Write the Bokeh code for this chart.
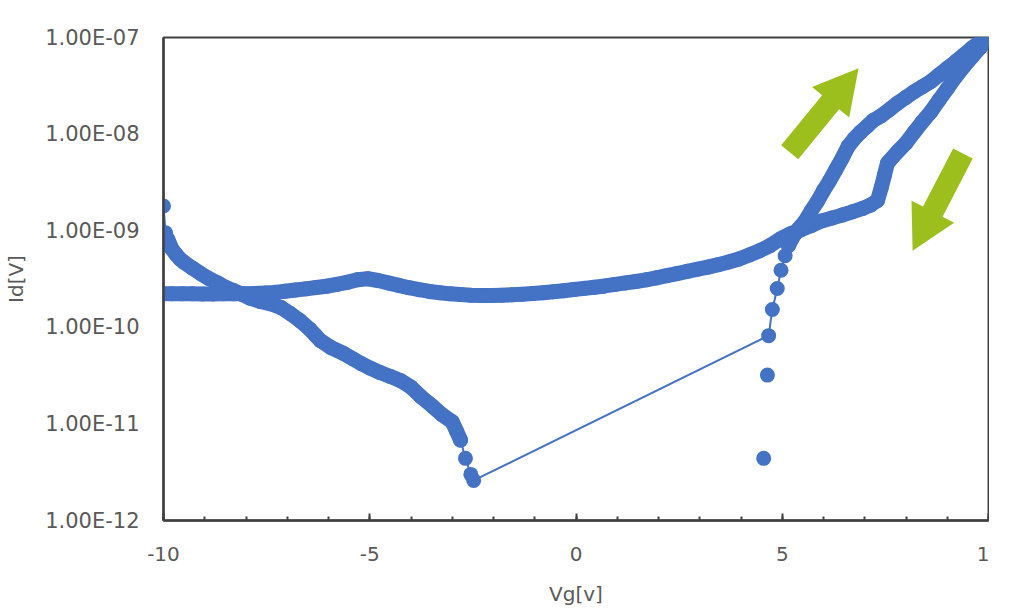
import math
from bokeh.plotting import figure
from bokeh.models import FixedTicker, CustomJSTickFormatter
from bokeh.embed import file_html
from bokeh.resources import INLINE

# ---------------- data ----------------
# forward sweep Vg: -10 -> 10 (values between -2.48 V and 4.67 V not plottable on log axis)
fwd_vg = [-10.0, -9.95, -9.9, -9.8, -9.7, -9.6, -9.5, -9.3, -9.1, -8.9, -8.7, -8.5, -8.3, -8.1,
          -7.9, -7.65, -7.4, -7.15, -6.92, -6.7, -6.45, -6.32, -6.2, -5.95, -5.65, -5.4, -5.2,
          -5.0, -4.75, -4.5, -4.25, -4.0, -3.75, -3.5, -3.25, -3.0, -2.9, -2.8, -2.68, -2.55,
          -2.48, 4.67, 4.76, 4.88, 4.97, 5.07, 5.15, 5.25, 5.4, 5.55, 5.7, 5.85, 6.0, 6.15, 6.3,
          6.45, 6.6, 6.75, 6.9, 7.05, 7.2, 7.4, 7.6, 7.8, 8.0, 8.2, 8.4, 8.6, 8.8, 9.0, 9.2,
          9.4, 9.6, 9.8, 10.0]
fwd_id = [1.8e-9, 9.5e-10, 8.2e-10, 6.5e-10, 5.7e-10, 5.1e-10, 4.7e-10, 4.1e-10, 3.6e-10,
          3.2e-10, 2.9e-10, 2.6e-10, 2.4e-10, 2.2e-10, 2.0e-10, 1.85e-10, 1.75e-10, 1.6e-10,
          1.38e-10, 1.18e-10, 9.5e-11, 8.3e-11, 7.3e-11, 6.2e-11, 5.4e-11, 4.7e-11, 4.2e-11,
          3.8e-11, 3.4e-11, 3.1e-11, 2.8e-11, 2.4e-11, 1.9e-11, 1.55e-11, 1.25e-11, 1.05e-11,
          8.5e-12, 6.8e-12, 4.4e-12, 3.0e-12, 2.6e-12, 8.2e-11, 1.53e-10, 2.52e-10, 3.9e-10,
          5.5e-10, 7.0e-10, 8.5e-10, 1.05e-9, 1.25e-9, 1.6e-9, 2.0e-9, 2.6e-9, 3.3e-9, 4.3e-9,
          5.6e-9, 7.5e-9, 9.0e-9, 1.05e-8, 1.2e-8, 1.38e-8, 1.55e-8, 1.8e-8, 2.1e-8, 2.4e-8,
          2.75e-8, 3.1e-8, 3.5e-8, 4.1e-8, 4.8e-8, 5.6e-8, 6.6e-8, 7.8e-8, 9.0e-8, 1.0e-7]

# reverse sweep Vg: 10 -> -10
rev_vg = [10.0, 9.8, 9.6, 9.4, 9.2, 9.0, 8.8, 8.6, 8.4, 8.2, 8.0, 7.8, 7.6, 7.55, 7.48, 7.4,
          7.31, 7.15, 6.95, 6.7, 6.45, 6.2, 5.95, 5.7, 5.45, 5.2, 4.95, 4.7, 4.45, 4.2, 3.95,
          3.7, 3.45, 3.2, 2.95, 2.7, 2.45, 2.2, 1.95, 1.7, 1.45, 1.2, 0.95, 0.7, 0.45, 0.2,
          -0.05, -0.3, -0.55, -0.8, -1.05, -1.3, -1.55, -1.8, -2.05, -2.3, -2.55, -2.8, -3.05,
          -3.3, -3.55, -3.8, -4.05, -4.3, -4.55, -4.8, -5.05, -5.3, -5.55, -5.8, -6.05, -6.3,
          -6.55, -6.8, -7.05, -7.3, -7.55, -7.8, -8.05, -8.3, -8.55, -8.8, -9.05, -9.3, -9.55,
          -9.8, -10.0]
rev_id = [1.0e-7, 7.9e-8, 6.3e-8, 5.0e-8, 3.9e-8, 2.95e-8, 2.25e-8, 1.7e-8, 1.35e-8, 1.05e-8,
          8.1e-9, 6.6e-9, 5.3e-9, 5.0e-9, 3.8e-9, 2.8e-9, 2.06e-9, 1.85e-9, 1.7e-9, 1.57e-9,
          1.45e-9, 1.35e-9, 1.26e-9, 1.13e-9, 1.02e-9, 9.3e-10, 8.2e-10, 7.0e-10, 6.2e-10,
          5.6e-10, 5.1e-10, 4.75e-10, 4.45e-10, 4.2e-10, 4.0e-10, 3.8e-10, 3.6e-10, 3.42e-10,
          3.25e-10, 3.1e-10, 2.98e-10, 2.88e-10, 2.78e-10, 2.68e-10, 2.6e-10, 2.53e-10,
          2.46e-10, 2.39e-10, 2.33e-10, 2.28e-10, 2.24e-10, 2.2e-10, 2.17e-10, 2.15e-10,
          2.14e-10, 2.14e-10, 2.15e-10, 2.18e-10, 2.22e-10, 2.28e-10, 2.35e-10, 2.45e-10,
          2.57e-10, 2.72e-10, 2.88e-10, 3.05e-10, 3.18e-10, 3.1e-10, 2.92e-10, 2.78e-10,
          2.66e-10, 2.58e-10, 2.5e-10, 2.43e-10, 2.36e-10, 2.3e-10, 2.26e-10, 2.24e-10,
          2.23e-10, 2.22e-10, 2.22e-10, 2.21e-10, 2.21e-10, 2.22e-10, 2.22e-10, 2.23e-10,
          2.23e-10]

# isolated points near the turn-on
iso_vg = [4.55, 4.64]
iso_id = [4.4e-12, 3.2e-11]

x_ticks = [-10, -5, 0, 5, 10]
x_tick_labels = ["-10", "-5", "0", "5", "1"]   # last label is cut to "1" in the original
x_minor_ticks = list(range(-10, 11))
y_ticks = [1e-12, 1e-11, 1e-10, 1e-9, 1e-8, 1e-7]
y_tick_labels = ["1.00E-12", "1.00E-11", "1.00E-10", "1.00E-09", "1.00E-08", "1.00E-07"]
x_label = "Vg[v]"
y_label = "Id[V]"

# sweep-direction arrows: (tail Vg, tail Id, tip Vg, tip Id)
arrow_up = (5.18, 6.5e-9, 6.85, 4.8e-8)
arrow_down = (9.38, 6.3e-9, 8.16, 6.2e-10)

# ---------------- styling ----------------
BLUE = "#4472C4"
GREEN = "#9CBF1E"
AXIS = "#404040"
TEXT = "#595959"
FONT = "DejaVu Sans"
MS = 15  # marker diameter (px)

W, H = 989, 611
BL, BR, BT, BB = 163, 1, 37, 91
FW, FH = W - BL - BR, H - BT - BB
XR = (-10, 10)
YR = (1e-12, 1e-7)

p = figure(width=W, height=H, x_range=XR, y_range=YR, y_axis_type="log",
           output_backend="svg", toolbar_location=None,
           min_border_left=BL, min_border_right=BR, min_border_top=BT, min_border_bottom=BB)
p.background_fill_color = "white"
p.border_fill_color = "white"
p.outline_line_color = AXIS
p.outline_line_width = 2
p.xgrid.visible = False
p.ygrid.visible = False

# x axis
p.xaxis.ticker = FixedTicker(ticks=x_ticks, minor_ticks=x_minor_ticks)
p.xaxis.formatter = CustomJSTickFormatter(
    args=dict(xt=x_ticks, xl=x_tick_labels),
    code="const i = xt.indexOf(tick); return i >= 0 ? xl[i] : tick.toString();")
p.xaxis.axis_line_color = AXIS
p.xaxis.axis_line_width = 2.5
p.xaxis.major_tick_in = 7
p.xaxis.major_tick_out = 0
p.xaxis.minor_tick_in = 4
p.xaxis.minor_tick_out = 0
p.xaxis.major_tick_line_color = AXIS
p.xaxis.minor_tick_line_color = AXIS
p.xaxis.major_tick_line_width = 2
p.xaxis.minor_tick_line_width = 2
p.xaxis.major_label_text_font = FONT
p.xaxis.major_label_text_font_size = "20px"
p.xaxis.major_label_text_color = TEXT
p.xaxis.major_label_standoff = 26
p.xaxis.axis_label = x_label
p.xaxis.axis_label_text_font = FONT
p.xaxis.axis_label_text_font_size = "20px"
p.xaxis.axis_label_text_font_style = "normal"
p.xaxis.axis_label_text_color = TEXT
p.xaxis.axis_label_standoff = 18

# y axis
p.yaxis.ticker = FixedTicker(ticks=y_ticks, minor_ticks=[])
p.yaxis.formatter = CustomJSTickFormatter(
    args=dict(yl=y_tick_labels),
    code="const i = Math.round(Math.log10(tick)) + 12; return yl[i];")
p.yaxis.axis_line_color = AXIS
p.yaxis.axis_line_width = 2.5
p.yaxis.major_tick_in = 0
p.yaxis.major_tick_out = 0
p.yaxis.minor_tick_in = 0
p.yaxis.minor_tick_out = 0
p.yaxis.major_label_text_font = FONT
p.yaxis.major_label_text_font_size = "21px"
p.yaxis.major_label_text_color = TEXT
p.yaxis.major_label_standoff = 24
p.yaxis.axis_label = y_label
p.yaxis.axis_label_text_font = FONT
p.yaxis.axis_label_text_font_size = "20px"
p.yaxis.axis_label_text_font_style = "normal"
p.yaxis.axis_label_text_color = TEXT
p.yaxis.axis_label_standoff = 14

# ---------------- arrows (shape built in screen space, anchored in data) ----------------
SX = FW / (XR[1] - XR[0])
SY = FH / (math.log10(YR[1]) - math.log10(YR[0]))


def to_px(v, i):
    return ((v - XR[0]) * SX, (math.log10(i) - math.log10(YR[0])) * SY)


def from_px(X, Y):
    return (X / SX + XR[0], 10 ** (Y / SY + math.log10(YR[0])))


def arrow_shape(spec, shaft_hw=11, head_hw=24, head_len=44):
    tx, ty = to_px(spec[0], spec[1])
    hx, hy = to_px(spec[2], spec[3])
    dx, dy = hx - tx, hy - ty
    L = math.hypot(dx, dy)
    ux, uy = dx / L, dy / L
    nx, ny = -uy, ux
    bx, by = hx - ux * head_len, hy - uy * head_len
    pts = [(tx + nx * shaft_hw, ty + ny * shaft_hw),
           (bx + nx * shaft_hw, by + ny * shaft_hw),
           (bx + nx * head_hw, by + ny * head_hw),
           (hx, hy),
           (bx - nx * head_hw, by - ny * head_hw),
           (bx - nx * shaft_hw, by - ny * shaft_hw),
           (tx - nx * shaft_hw, ty - ny * shaft_hw)]
    conv = [from_px(X, Y) for X, Y in pts]
    return [c[0] for c in conv], [c[1] for c in conv]


for spec in (arrow_up, arrow_down):
    ax, ay = arrow_shape(spec)
    p.patch(ax, ay, fill_color=GREEN, line_color=None)

# ---------------- data series ----------------
# thin connecting line (Excel style)
p.line(fwd_vg, fwd_id, line_color=BLUE, line_width=2)
p.line(rev_vg, rev_id, line_color=BLUE, line_width=2)

# densely sampled stretches appear as a solid band of overlapping markers
band_kw = dict(line_color=BLUE, line_width=MS, line_join="round", line_cap="round")
a, b = fwd_vg.index(-9.9), fwd_vg.index(-2.8)
p.line(fwd_vg[a:b + 1], fwd_id[a:b + 1], **band_kw)
c = fwd_vg.index(5.15)
p.line(fwd_vg[c:], fwd_id[c:], **band_kw)
p.line(rev_vg, rev_id, **band_kw)

p.scatter(fwd_vg, fwd_id, size=MS, fill_color=BLUE, line_color=BLUE, line_width=0)
p.scatter(rev_vg, rev_id, size=MS, fill_color=BLUE, line_color=BLUE, line_width=0)
p.scatter(iso_vg, iso_id, size=MS, fill_color=BLUE, line_color=BLUE, line_width=0)

open("out.html", "w").write(file_html(p, INLINE))
